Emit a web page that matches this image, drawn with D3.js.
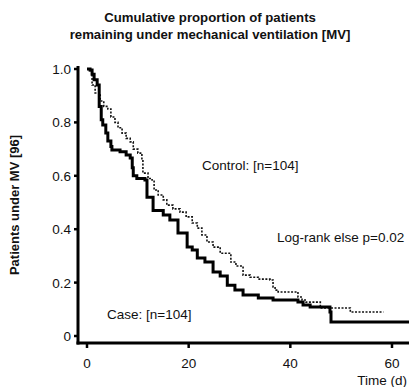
<!DOCTYPE html>
<html>
<head>
<meta charset="utf-8">
<script src="https://cdn.jsdelivr.net/npm/d3@7"></script>
<style>
  body { margin: 0; background: #fff; }
  text { font-family: "Liberation Sans", Arial, sans-serif; fill: #111; }
</style>
</head>
<body>
<svg id="chart" width="409" height="387"></svg>
<script>
// Kaplan-Meier style step data (time in days, proportion still ventilated)
const caseTimes  = [0, 0.6, 1.0, 1.4, 2.0, 2.4, 2.8, 3.1, 3.7, 4.1, 4.7, 4.9, 6.5, 7.7, 8.5, 8.9, 9.1, 9.8, 11.4, 11.8, 13, 15, 16.3, 17.9, 19.7, 20.7, 21.7, 23.2, 24.8, 26.2, 27.6, 29.1, 30.7, 33.7, 36.6, 41.5, 42.5, 43.9, 47.8, 48, 63.4];
const caseValues = [1.0, 0.996, 0.98, 0.96, 0.94, 0.86, 0.81, 0.79, 0.76, 0.73, 0.71, 0.697, 0.69, 0.678, 0.667, 0.63, 0.60, 0.59, 0.584, 0.52, 0.47, 0.453, 0.434, 0.386, 0.333, 0.322, 0.292, 0.277, 0.24, 0.225, 0.19, 0.172, 0.154, 0.142, 0.135, 0.127, 0.116, 0.109, 0.09, 0.052, 0.052];

const controlTimes  = [0, 0.6, 1.0, 1.6, 2.6, 3.3, 4.1, 4.7, 5.5, 6.1, 6.9, 7.7, 8.5, 9.1, 10, 10.8, 11.0, 12, 12.8, 13.2, 14, 15, 15.7, 16.9, 18.3, 19.5, 20.7, 21.7, 22.6, 23.6, 24.8, 26.2, 28.3, 29.3, 30.7, 32.1, 33.7, 36, 36.6, 37, 37.6, 41.5, 42.3, 43.1, 45.9, 51.8, 58.3];
const controlValues = [1.0, 0.99, 0.94, 0.91, 0.88, 0.86, 0.85, 0.82, 0.80, 0.78, 0.76, 0.74, 0.727, 0.70, 0.685, 0.66, 0.61, 0.59, 0.584, 0.547, 0.528, 0.51, 0.49, 0.476, 0.464, 0.446, 0.423, 0.404, 0.378, 0.352, 0.333, 0.31, 0.277, 0.262, 0.228, 0.22, 0.213, 0.21, 0.184, 0.172, 0.165, 0.146, 0.135, 0.127, 0.105, 0.09, 0.09];

const xTicks = [0, 20, 40, 60];
const yTicks = [0, 0.2, 0.4, 0.6, 0.8, 1.0];
const yTickLabels = ['0', '0.2', '0.4', '0.6', '0.8', '1.0'];

const svg = d3.select('#chart');

const x = d3.scaleLinear().domain([0, 60]).range([87, 392]);
const y = d3.scaleLinear().domain([0, 1]).range([336, 69]);

const axisX = 78, axisY = 343;
const fs = '13.5px';

// title
svg.append('text')
  .attr('x', 210).attr('y', 22)
  .attr('text-anchor', 'middle')
  .style('font-weight', 'bold').style('font-size', '13.2px')
  .text('Cumulative proportion of patients');
svg.append('text')
  .attr('x', 210).attr('y', 39)
  .attr('text-anchor', 'middle')
  .style('font-weight', 'bold').style('font-size', '13.2px')
  .text('remaining under mechanical ventilation [MV]');

// y axis label
svg.append('text')
  .attr('transform', 'translate(19, 205) rotate(-90)')
  .attr('text-anchor', 'middle')
  .style('font-weight', 'bold').style('font-size', '13px')
  .text('Patients under MV [96]');

// axis lines
svg.append('line')
  .attr('x1', axisX).attr('x2', axisX)
  .attr('y1', 66).attr('y2', axisY + 1.5)
  .attr('stroke', '#000').attr('stroke-width', 3);
svg.append('line')
  .attr('x1', axisX - 1.5).attr('x2', 409)
  .attr('y1', axisY).attr('y2', axisY)
  .attr('stroke', '#000').attr('stroke-width', 3);

// y ticks
const yt = svg.append('g');
yTicks.forEach((v, i) => {
  yt.append('line')
    .attr('x1', axisX - 4).attr('x2', axisX)
    .attr('y1', y(v)).attr('y2', y(v))
    .attr('stroke', '#000').attr('stroke-width', 2.5);
  yt.append('text')
    .attr('x', axisX - 7).attr('y', y(v) + 5)
    .attr('text-anchor', 'end')
    .style('font-size', fs)
    .text(yTickLabels[i]);
});

// x ticks
const xt = svg.append('g');
xTicks.forEach(t => {
  xt.append('line')
    .attr('x1', x(t)).attr('x2', x(t))
    .attr('y1', axisY).attr('y2', axisY + 5)
    .attr('stroke', '#000').attr('stroke-width', 2.5);
  xt.append('text')
    .attr('x', x(t)).attr('y', 368)
    .attr('text-anchor', 'middle')
    .style('font-size', fs)
    .text(t);
});

svg.append('text')
  .attr('x', 407).attr('y', 385)
  .attr('text-anchor', 'end')
  .style('font-size', fs)
  .text('Time (d)');

// curves
const line = d3.line()
  .x(d => x(d[0]))
  .y(d => y(d[1]))
  .curve(d3.curveStepAfter);

const controlData = controlTimes.map((t, i) => [t, controlValues[i]]);
const caseData = caseTimes.map((t, i) => [t, caseValues[i]]);

svg.append('path')
  .datum(controlData)
  .attr('d', line)
  .attr('fill', 'none')
  .attr('stroke', '#111')
  .attr('stroke-width', 1.6)
  .attr('stroke-dasharray', '2,1.5');

svg.append('path')
  .datum(caseData)
  .attr('d', line)
  .attr('fill', 'none')
  .attr('stroke', '#000')
  .attr('stroke-width', 3);

// annotations
svg.append('text')
  .attr('x', 202).attr('y', 170)
  .style('font-size', fs)
  .text('Control: [n=104]');
svg.append('text')
  .attr('x', 277).attr('y', 242)
  .style('font-size', fs)
  .text('Log-rank else p=0.02');
svg.append('text')
  .attr('x', 107).attr('y', 319)
  .style('font-size', fs)
  .text('Case: [n=104]');
</script>
</body>
</html>
